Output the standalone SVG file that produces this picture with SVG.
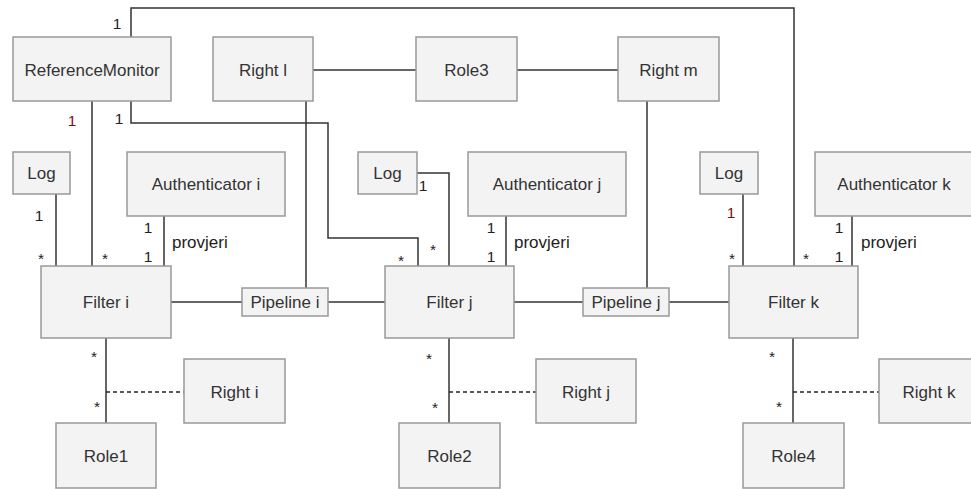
<svg xmlns="http://www.w3.org/2000/svg" width="971" height="489" viewBox="0 0 971 489">
<style>
.box{fill:#f3f3f3;stroke:#999;stroke-width:1.5}
.t{font-family:"Liberation Sans",Arial,sans-serif;font-size:17px;fill:#333;text-anchor:middle}
.lbl{font-family:"Liberation Sans",Arial,sans-serif;font-size:15.5px;fill:#222;text-anchor:middle}
.red{fill:#7a1010}
.pv{font-family:"Liberation Sans",Arial,sans-serif;font-size:17px;fill:#222}
.ln{fill:none;stroke:#333;stroke-width:1.5}
.dash{fill:none;stroke:#222;stroke-width:1.3;stroke-dasharray:4 3}
</style>
<rect width="971" height="489" fill="#fff"/>
<g id="connectors">
<path class="ln" d="M131,37 V8 H794 V266"/>
<path class="ln" d="M92,101 V266"/>
<path class="ln" d="M131,101 V123 H328 V238 H418 V266"/>
<path class="ln" d="M313,70 H416"/>
<path class="ln" d="M517,70 H618"/>
<path class="ln" d="M306,101 V288"/>
<path class="ln" d="M647,101 V288"/>
<path class="ln" d="M56,194 V266"/>
<path class="ln" d="M164,216 V266"/>
<path class="ln" d="M417,173 H449 V266"/>
<path class="ln" d="M506,216 V266"/>
<path class="ln" d="M743,194 V266"/>
<path class="ln" d="M852,216 V266"/>
<path class="ln" d="M171,302 H242"/>
<path class="ln" d="M328,302 H385"/>
<path class="ln" d="M514,302 H583"/>
<path class="ln" d="M669,302 H729"/>
<path class="ln" d="M106,338 V423"/>
<path class="ln" d="M449,338 V423"/>
<path class="ln" d="M793,338 V423"/>
<path class="dash" d="M106,392 H184"/>
<path class="dash" d="M449,392 H536"/>
<path class="dash" d="M793,392 H879"/>
<g id="labels">
<text class="lbl" x="117" y="29">1</text>
<text class="lbl red" x="72" y="126">1</text>
<text class="lbl" x="119" y="124">1</text>
<text class="lbl" x="39" y="221">1</text>
<text class="lbl" x="41" y="264">*</text>
<text class="lbl" x="105" y="264">*</text>
<text class="lbl" x="148" y="233">1</text>
<text class="lbl" x="148" y="262">1</text>
<text class="pv" x="172" y="248">provjeri</text>
<text class="lbl" x="423" y="191">1</text>
<text class="lbl" x="401" y="266">*</text>
<text class="lbl" x="433" y="255">*</text>
<text class="lbl" x="491" y="233">1</text>
<text class="lbl" x="491" y="262">1</text>
<text class="pv" x="514" y="248">provjeri</text>
<text class="lbl red" x="731" y="218">1</text>
<text class="lbl" x="732" y="264">*</text>
<text class="lbl" x="806" y="264">*</text>
<text class="lbl" x="839" y="233">1</text>
<text class="lbl" x="839" y="262">1</text>
<text class="pv" x="861" y="248">provjeri</text>
<text class="lbl" x="94" y="362">*</text>
<text class="lbl" x="97" y="412">*</text>
<text class="lbl" x="429" y="364">*</text>
<text class="lbl" x="435" y="413">*</text>
<text class="lbl" x="772" y="362">*</text>
<text class="lbl" x="779" y="412">*</text>
</g>
</g>
<g id="ReferenceMonitor"><rect class="box" x="13" y="37" width="158" height="64"/><text class="t" x="92" y="76">ReferenceMonitor</text></g>
<g id="RightL"><rect class="box" x="213" y="37" width="100" height="64"/><text class="t" x="263" y="76">Right l</text></g>
<g id="Role3"><rect class="box" x="416" y="37" width="101" height="64"/><text class="t" x="466.5" y="76">Role3</text></g>
<g id="RightM"><rect class="box" x="618" y="37" width="101" height="64"/><text class="t" x="668.5" y="76">Right m</text></g>
<g id="LogI"><rect class="box" x="13" y="152" width="57" height="42"/><text class="t" x="41.5" y="179">Log</text></g>
<g id="AuthI"><rect class="box" x="127" y="152" width="158" height="64"/><text class="t" x="206" y="190">Authenticator i</text></g>
<g id="LogJ"><rect class="box" x="358" y="152" width="59" height="42"/><text class="t" x="387.5" y="179">Log</text></g>
<g id="AuthJ"><rect class="box" x="468" y="152" width="158" height="64"/><text class="t" x="547" y="190">Authenticator j</text></g>
<g id="LogK"><rect class="box" x="700" y="152" width="58" height="42"/><text class="t" x="729" y="179">Log</text></g>
<g id="AuthK"><rect class="box" x="815" y="152" width="158" height="64"/><text class="t" x="894" y="190">Authenticator k</text></g>
<g id="FilterI"><rect class="box" x="41" y="266" width="130" height="72"/><text class="t" x="106" y="308">Filter i</text></g>
<g id="PipelineI"><rect class="box" x="242" y="288" width="86" height="28"/><text class="t" x="285" y="308">Pipeline i</text></g>
<g id="FilterJ"><rect class="box" x="385" y="266" width="129" height="72"/><text class="t" x="449.5" y="308">Filter j</text></g>
<g id="PipelineJ"><rect class="box" x="583" y="288" width="86" height="28"/><text class="t" x="626" y="308">Pipeline j</text></g>
<g id="FilterK"><rect class="box" x="729" y="266" width="129" height="72"/><text class="t" x="793.5" y="308">Filter k</text></g>
<g id="RightI"><rect class="box" x="184" y="359" width="101" height="64"/><text class="t" x="234.5" y="398">Right i</text></g>
<g id="RightJ"><rect class="box" x="536" y="359" width="100" height="64"/><text class="t" x="586" y="398">Right j</text></g>
<g id="RightK"><rect class="box" x="879" y="359" width="100" height="64"/><text class="t" x="929" y="398">Right k</text></g>
<g id="Role1"><rect class="box" x="56" y="423" width="100" height="65"/><text class="t" x="106" y="462">Role1</text></g>
<g id="Role2"><rect class="box" x="399" y="423" width="101" height="65"/><text class="t" x="449.5" y="462">Role2</text></g>
<g id="Role4"><rect class="box" x="743" y="423" width="101" height="65"/><text class="t" x="793.5" y="462">Role4</text></g>
</svg>
